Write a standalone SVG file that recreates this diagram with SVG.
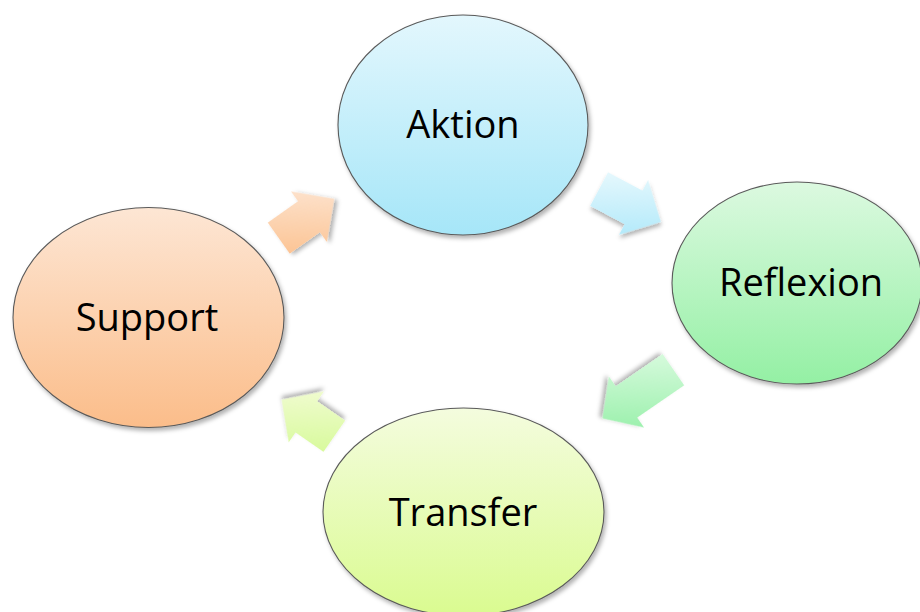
<svg xmlns="http://www.w3.org/2000/svg" width="920" height="612" viewBox="0 0 920 612">
  <defs>
    <style>
      .node ellipse { stroke: #5a5a5a; stroke-width: 1.1; filter: url(#shadow); }
      .label { font-family: "Open Sans", "Liberation Sans", sans-serif; font-size: 38px; fill: #000; text-anchor: middle; }
      .arrow { filter: url(#shadow); }
    </style>
    <filter id="shadow" x="-20%" y="-20%" width="140%" height="140%">
      <feDropShadow dx="2" dy="3" stdDeviation="2.2" flood-color="#000" flood-opacity="0.3"/>
    </filter>
    <!-- node fills: light at the top, deeper at the bottom -->
    <linearGradient id="gAktion" x1="0" y1="0" x2="0" y2="1">
      <stop offset="0" stop-color="#e3f7fd"/>
      <stop offset="1" stop-color="#a6e6f8"/>
    </linearGradient>
    <linearGradient id="gReflexion" x1="0" y1="0" x2="0" y2="1">
      <stop offset="0" stop-color="#dcf9e0"/>
      <stop offset="1" stop-color="#94f0a4"/>
    </linearGradient>
    <linearGradient id="gTransfer" x1="0" y1="0" x2="0" y2="1">
      <stop offset="0" stop-color="#f4fcde"/>
      <stop offset="1" stop-color="#dafb90"/>
    </linearGradient>
    <linearGradient id="gSupport" x1="0" y1="0" x2="0" y2="1">
      <stop offset="0" stop-color="#fde6d4"/>
      <stop offset="1" stop-color="#fbbd8a"/>
    </linearGradient>
    <!-- connector fills, kept vertical on screen by undoing each arrow's rotation -->
    <linearGradient id="aPeach" gradientUnits="userSpaceOnUse" x1="0" y1="-34" x2="0" y2="34" gradientTransform="rotate(35.3)">
      <stop offset="0" stop-color="#fde4d0"/>
      <stop offset="1" stop-color="#fcc596"/>
    </linearGradient>
    <linearGradient id="aBlue" gradientUnits="userSpaceOnUse" x1="0" y1="-34" x2="0" y2="34" gradientTransform="rotate(-28)">
      <stop offset="0" stop-color="#e6f8fd"/>
      <stop offset="1" stop-color="#b0e9fa"/>
    </linearGradient>
    <linearGradient id="aGreen" gradientUnits="userSpaceOnUse" x1="0" y1="-40" x2="0" y2="40" gradientTransform="rotate(-145.5)">
      <stop offset="0" stop-color="#d6fadc"/>
      <stop offset="1" stop-color="#98f0aa"/>
    </linearGradient>
    <linearGradient id="aLime" gradientUnits="userSpaceOnUse" x1="0" y1="-34" x2="0" y2="34" gradientTransform="rotate(-214.7)">
      <stop offset="0" stop-color="#f2fcd4"/>
      <stop offset="1" stop-color="#d8fa9c"/>
    </linearGradient>
  </defs>

  <rect width="920" height="612" fill="#ffffff"/>

  <!-- connectors: block arrows running clockwise -->
  <g id="connectors">
    <polygon class="arrow" fill="url(#aPeach)" transform="translate(306.5,218.5) rotate(-35.3)"
             points="-34,-19 3,-19 3,-31 34,0 3,31 3,19 -34,19"/>
    <polygon class="arrow" fill="url(#aBlue)" transform="translate(630,205.5) rotate(28)"
             points="-35,-19 4,-19 4,-31 35,0 4,31 4,19 -35,19"/>
    <polygon class="arrow" fill="url(#aGreen)" transform="translate(638,394) rotate(145.5)"
             points="-43,-19 14,-19 14,-31 43,0 14,31 14,19 -43,19"/>
    <polygon class="arrow" fill="url(#aLime)" transform="translate(308,418) rotate(214.7)"
             points="-32,-19 2,-19 2,-31 32,0 2,31 2,19 -32,19"/>
  </g>

  <g id="node-aktion" class="node">
    <ellipse cx="463" cy="125" rx="125" ry="110" fill="url(#gAktion)"/>
    <text class="label" x="463" y="138">Aktion</text>
  </g>

  <g id="node-reflexion" class="node">
    <ellipse cx="797" cy="283" rx="125" ry="101" fill="url(#gReflexion)"/>
    <text class="label" x="801" y="296">Reflexion</text>
  </g>

  <g id="node-transfer" class="node">
    <ellipse cx="463.5" cy="512" rx="140.5" ry="104" fill="url(#gTransfer)"/>
    <text class="label" x="463" y="526">Transfer</text>
  </g>

  <g id="node-support" class="node">
    <ellipse cx="148.5" cy="317.5" rx="135.5" ry="110" fill="url(#gSupport)"/>
    <text class="label" x="147" y="331">Support</text>
  </g>
</svg>
